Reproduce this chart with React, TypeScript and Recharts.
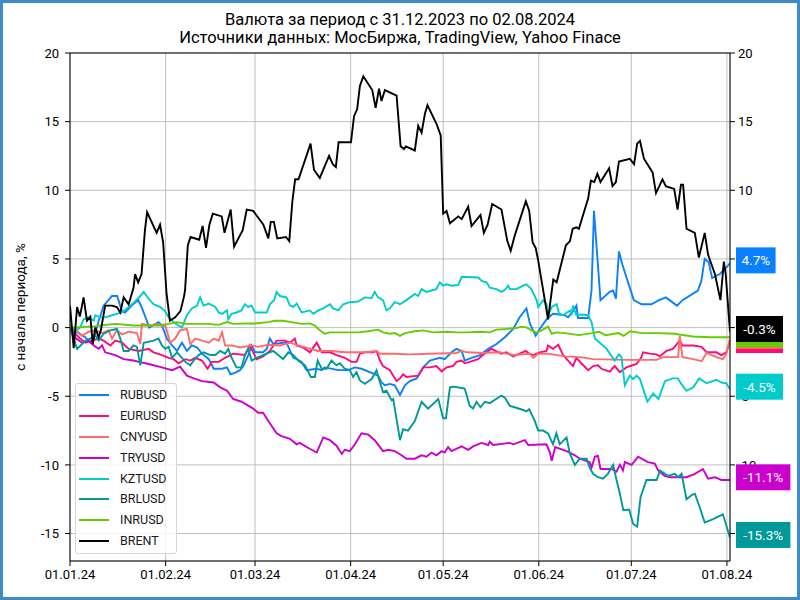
import React from 'react';
import { LineChart, Line, XAxis, YAxis, CartesianGrid, Legend, LabelList, ReferenceLine } from 'recharts';

type Pt = [number, number];

// x = days since 01.01.2024, y = change since start of period, %
const rubusd: Pt[] = [
  [0, 0], [2.8, -0.4], [5.0, -0.7], [6.6, -1.1], [7.7, -0.8], [9.3, 0.5], [10.9, 1.6], [13.6, 2.3], [15.3, 2.3],
  [16.8, 1.2], [17.8, 1.1], [20.0, 1.6], [22.1, 2.0], [23.2, 1.5], [24.9, 0.5], [25.7, 0], [28.7, 0.4], [29.8, 0.15],
  [31.4, -0.8], [33.1, -1.3], [34.7, -1.7], [36.3, -1.1], [37.9, -1.7], [39.5, -1.3], [41.2, -1.45], [42.8, -1.9],
  [45.0, -2.3], [46.6, -3.0], [49.3, -3.0], [50.9, -2.9], [52.0, -3.4], [53.5, -3.3], [55.1, -3.1], [56.2, -2.8],
  [57.8, -2.0], [58.9, -1.3], [60.0, -1.8], [62.6, -1.8], [63.8, -1.55], [64.8, -0.8], [65.9, -1.2], [69.1, -1.1],
  [70.2, -1.1], [72.4, -2.2], [73.5, -2.3], [75.1, -2.5], [76.7, -3.1], [80.0, -3.0], [81.6, -3.1], [82.6, -2.9],
  [87.0, -3.1], [90.2, -3.1], [92.4, -2.9], [94.5, -3.0], [97.8, -3.3], [99.9, -3.5], [101.0, -4.0], [102.1, -4.2],
  [103.7, -4.1], [105.3, -4.2], [107.0, -4.9], [108.6, -4.2], [110.2, -3.9], [112.4, -3.7], [114.0, -3.1],
  [114.5, -2.9], [116.7, -2.4], [119.9, -2.2], [121.5, -2.3], [123.7, -1.8], [125.3, -1.55], [127.0, -1.7],
  [128.0, -2.4], [130.2, -2.2], [132.9, -2.0], [135.6, -1.55], [138.3, -1.2], [141.0, -0.7], [143.7, -0.1],
  [145.8, 0.75], [148.0, 1.4], [149.1, 0.3], [151.0, -0.6], [152.3, -0.1], [154.5, 0.6], [156.6, 1.0], [160.4, 0.9],
  [161.5, 0.75], [163.1, 1.2], [164.2, 1.6], [164.7, 0.7], [168.0, 0.7], [169.1, 2.7], [169.9, 8.5], [172.0, 2.0],
  [175.0, 2.6], [176.1, 2.7], [177.0, 2.1], [178.0, 5.55], [179.1, 4.6], [182.8, 2.0], [185.3, 1.7], [188.5, 1.7],
  [191.0, 2.0], [193.2, 2.2], [196.8, 1.6], [198.6, 2.0], [203.6, 2.7], [204.7, 3.4], [205.8, 5.0], [207.1, 4.75],
  [208.2, 3.6], [210.7, 3.9], [211.7, 4.15], [213.3, 4.5], [214, 4.7],
];

const eurusd: Pt[] = [
  [0, 0], [1.7, -0.45], [3.3, -0.8], [5.0, -1.1], [7.1, -0.95], [9.3, -0.8], [10.9, -0.95], [13.1, -1.3],
  [14.7, -0.95], [16.9, -1.1], [19.0, -1.55], [22.3, -1.7], [25.5, -1.55], [27.1, -1.8], [29.8, -2.0], [32.0, -2.2],
  [33.6, -2.3], [35.2, -2.6], [37.4, -2.3], [39.0, -2.4], [40.6, -2.2], [42.8, -2.4], [44.6, -3.0], [46.0, -2.5],
  [48.2, -2.5], [50.3, -2.2], [52.9, -1.9], [56.7, -2.0], [58.3, -1.3], [59.4, -1.8], [60.5, -2.3], [62.6, -2.1],
  [64.8, -1.7], [67.0, -0.95], [69.7, -0.95], [71.3, -1.1], [72.9, -0.8], [73.5, -1.3], [75.6, -1.45], [77.8, -1.8],
  [80.0, -1.1], [81.6, -1.8], [84.3, -1.8], [86.4, -2.0], [89.1, -2.2], [91.3, -2.5], [92.9, -2.5], [94.0, -1.9],
  [95.6, -1.8], [98.3, -1.8], [99.4, -1.7], [100.5, -2.4], [101.5, -2.8], [103.7, -3.1], [105.9, -3.9], [107.0, -3.7],
  [108.0, -3.4], [109.1, -3.6], [112.9, -3.5], [114.5, -2.9], [116.7, -2.9], [118.8, -2.8], [120.5, -3.2],
  [122.1, -2.9], [124.2, -2.8], [125.3, -2.5], [127.0, -2.4], [128.0, -2.6], [129.6, -2.5], [132.3, -2.3],
  [133.9, -2.0], [135.6, -1.7], [136.7, -1.55], [139.9, -1.9], [141.5, -1.8], [143.7, -2.1], [145.8, -1.9],
  [147.8, -1.7], [148.9, -1.9], [150.2, -2.0], [152.3, -1.8], [154.5, -1.7], [155.0, -1.3], [156.6, -1.55],
  [158.3, -1.25], [159.9, -2.0], [161.5, -2.4], [163.1, -2.8], [164.2, -2.2], [165.8, -2.6], [168.0, -3.1],
  [169.6, -2.8], [171.2, -2.75], [172.3, -3.0], [175.0, -3.2], [176.6, -2.8], [178.3, -3.25], [180.4, -2.9],
  [183.7, -2.65], [185.3, -2.15], [185.8, -1.8], [188.0, -1.9], [190.1, -1.95], [191.2, -2.1], [193.4, -1.7],
  [195.5, -1.55], [197.7, -0.95], [198.6, -1.3], [202.1, -1.3], [204.8, -1.4], [206.4, -1.8], [209.6, -1.8],
  [211.2, -2.0], [212.8, -1.8], [214, -1.1],
];

const cnyusd: Pt[] = [
  [0, 0], [1.6, -0.1], [3.9, -0.6], [6.1, -0.3], [8.2, -0.2], [10.4, -0.4], [12.5, -0.2], [13.6, -0.8], [15.2, -0.2],
  [16.9, -0.5], [19.0, -0.3], [21.7, -0.4], [22.8, -1.2], [23.3, 0.27], [26.0, 0.15], [27.6, 0.27], [30.2, 0.1],
  [30.9, 0.15], [32.5, -1.1], [34.1, -0.8], [35.7, -0.2], [37.9, -0.1], [39.0, -1.2], [40.6, -0.8], [42.8, -0.95],
  [45.0, -1.1], [46.6, -0.8], [48.2, -0.95], [49.3, -0.35], [50.3, -1.3], [52.5, -1.3], [55.1, -1.45], [58.9, -1.3],
  [61.0, -1.4], [64.3, -1.25], [68.1, -1.3], [71.3, -1.1], [74.0, -1.3], [77.2, -1.5], [80.5, -1.7], [84.8, -1.7],
  [89.1, -1.8], [95.6, -1.8], [99.4, -1.7], [100.5, -1.9], [105.3, -1.9], [110.2, -1.95], [116.7, -1.9],
  [125.3, -1.85], [127.0, -1.7], [128.6, -1.8], [133.9, -1.85], [139.4, -1.8], [143.7, -2.0], [149.1, -1.9],
  [150.2, -2.2], [151.8, -1.9], [155.0, -1.9], [160.4, -2.1], [165.3, -2.15], [169.6, -2.3], [180.4, -2.35],
  [190.1, -2.35], [192.3, -2.15], [197.2, -2.15], [197.7, -0.6], [198.6, -2.15], [202.1, -2.3], [204.8, -2.45],
  [206.4, -1.85], [209.6, -2.15], [211.7, -2.3], [212.8, -1.9], [214, -0.8],
];

const tryusd: Pt[] = [
  [0, 0], [1.7, -0.75], [3.9, -1.1], [6.1, -0.95], [7.7, -1.3], [9.3, -1.55], [10.4, -1.3], [11.4, -1.8],
  [14.7, -2.0], [17.4, -2.3], [20.6, -2.4], [22.3, -2.5], [25.5, -2.65], [29.8, -2.9], [33.1, -3.1], [35.7, -2.85],
  [37.9, -3.5], [40.1, -3.7], [42.8, -3.9], [46.6, -4.0], [48.7, -4.35], [50.9, -4.6], [52.9, -5.2], [55.6, -5.4],
  [59.4, -5.9], [61.0, -6.2], [62.6, -6.2], [64.3, -6.8], [67.0, -7.7], [68.6, -7.9], [71.3, -8.1], [73.5, -8.5],
  [74.5, -8.4], [76.7, -8.7], [80.0, -9.1], [82.1, -8.0], [84.3, -8.2], [86.4, -8.6], [88.1, -9.2], [89.1, -8.9],
  [90.7, -9.0], [92.4, -8.5], [94.5, -7.7], [96.7, -7.8], [98.8, -8.2], [101.5, -9.0], [103.2, -8.9], [105.3, -9.0],
  [107.5, -9.3], [109.1, -9.55], [111.8, -9.55], [114.0, -9.3], [115.6, -9.4], [117.2, -9.1], [118.8, -9.3],
  [120.5, -9.0], [121.5, -9.1], [122.6, -8.7], [123.7, -9.0], [127.0, -8.65], [129.1, -8.9], [130.7, -8.65],
  [133.4, -8.4], [135.6, -8.55], [136.1, -8.3], [137.2, -8.55], [142.6, -8.4], [143.7, -8.5], [147.5, -8.2],
  [148.6, -8.55], [154.5, -8.5], [155.6, -9.1], [156.2, -9.7], [157.3, -8.7], [161.0, -9.0], [163.7, -9.3],
  [165.3, -9.55], [168.5, -9.8], [169.1, -10.2], [170.2, -9.4], [171.2, -9.35], [172.0, -10.3], [175.6, -10.3],
  [177.2, -10.5], [178.3, -10.0], [179.3, -10.4], [179.9, -9.8], [182.1, -10.0], [184.2, -9.4], [187.4, -9.8],
  [189.6, -9.9], [190.7, -10.4], [192.8, -10.8], [194.5, -10.9], [199.9, -10.9], [202.6, -10.65], [205.2, -10.3],
  [206.9, -11.0], [209.1, -10.9], [211.2, -11.1], [214, -11.1],
];

const kztusd: Pt[] = [
  [0, 0], [1.9, -0.2], [3.3, 0.0], [4.4, 0.6], [6.1, 0.75], [7.7, 0.5], [8.2, 0.9], [9.8, 0.75], [11.4, 0.75],
  [13.6, 0.9], [15.2, 1.0], [16.9, 1.1], [19.0, 1.5], [20.6, 1.8], [22.8, 2.3], [23.9, 2.6], [25.5, 2.1], [27.1, 1.7],
  [29.3, 1.5], [30.8, 1.2], [32.0, 0.75], [33.6, 0.4], [35.2, 0.15], [36.3, 0], [37.9, 0.9], [39.5, 1.4], [41.2, 1.6],
  [42.2, 2.2], [43.3, 1.6], [45.0, 1.75], [47.1, 1.5], [48.2, 1.1], [49.3, 1.0], [50.9, 1.25], [51.3, 0.6],
  [52.4, 1.0], [54.0, 1.1], [55.6, 1.25], [56.7, 1.7], [57.8, 1.5], [58.9, 1.6], [60.0, 1.1], [63.8, 1.1],
  [64.8, 1.7], [66.2, 2.0], [67.0, 2.6], [68.1, 2.3], [70.2, 2.2], [71.3, 1.6], [72.4, 1.5], [73.5, 1.75],
  [75.1, 1.1], [77.8, 1.25], [78.9, 1.0], [80.5, 1.25], [82.1, 1.4], [84.3, 1.7], [85.3, 1.4], [87.0, 1.25],
  [88.6, 1.7], [90.7, 1.85], [93.4, 1.9], [95.6, 2.2], [97.8, 2.15], [98.8, 2.6], [99.9, 2.2], [101.5, 2.0],
  [102.6, 1.25], [103.7, 1.4], [105.3, 1.85], [107.0, 1.7], [109.1, 2.0], [111.8, 2.45], [112.9, 2.3], [114.0, 2.8],
  [115.6, 2.6], [117.2, 2.7], [118.8, 2.8], [119.9, 3.3], [121.0, 3.05], [122.1, 3.15], [123.7, 3.05], [125.9, 3.1],
  [127.0, 3.7], [132.4, 3.65], [133.5, 3.4], [135.1, 3.3], [136.1, 2.9], [138.3, 2.8], [139.9, 2.6], [141.0, 2.75],
  [142.1, 3.05], [142.6, 2.8], [144.8, 2.8], [146.9, 3.05], [148.0, 3.15], [149.6, 2.8], [151.3, 2.0], [151.8, 1.5],
  [153.4, 2.0], [154.5, 1.75], [155.0, 0.9], [156.2, 1.5], [157.8, 1.7], [158.6, 1.0], [159.9, 0.9], [162.1, 1.25],
  [162.6, 0.9], [163.1, 1.6], [164.2, 0.9], [165.8, 0.95], [168.0, 0.9], [169.1, 0.4], [170.2, -0.8],
  [171.8, -1.1], [174.0, -1.55], [176.6, -2.4], [178.0, -1.95], [178.8, -2.15], [179.9, -4.2], [181.5, -3.5],
  [182.6, -3.75], [183.7, -3.5], [184.8, -3.75], [187.2, -5.4], [189.1, -4.8], [190.8, -5.2], [192.9, -3.9],
  [195.5, -3.7], [197.1, -3.7], [198.2, -4.1], [199.9, -4.6], [202.1, -4.35], [204.0, -3.7], [206.4, -4.05],
  [209.6, -3.8], [211.2, -4.0], [212.8, -4.05], [214, -4.5],
];

const brlusd: Pt[] = [
  [0, 0], [2.3, -1.55], [5.0, -0.95], [6.6, -0.8], [8.2, -0.55], [9.3, -0.95], [10.9, -0.45], [13.1, -0.2],
  [15.2, -0.1], [16.3, -0.8], [17.4, -1.7], [19.0, -1.7], [20.6, -1.3], [21.7, -1.4], [22.8, -2.75], [23.9, -1.1],
  [27.1, -0.95], [28.7, -0.8], [29.8, -1.3], [30.9, -1.55], [32.0, -1.4], [33.1, -2.2], [34.7, -1.8], [36.3, -2.2],
  [37.4, -2.5], [39.0, -2.75], [40.1, -2.4], [41.7, -2.0], [43.3, -1.8], [45.5, -2.0], [47.1, -2.0], [48.7, -1.7],
  [50.3, -1.9], [51.3, -1.55], [52.4, -2.2], [54.0, -2.9], [55.6, -2.9], [56.7, -2.0], [57.8, -1.55], [58.9, -2.4],
  [60.5, -2.2], [63.8, -1.9], [65.9, -1.7], [67.5, -2.0], [69.1, -2.3], [70.8, -1.8], [72.4, -2.0], [74.0, -2.4],
  [76.2, -2.75], [78.1, -3.6], [79.4, -3.6], [80.3, -2.4], [81.6, -3.0], [83.2, -3.0], [84.8, -2.4], [86.4, -2.75],
  [87.5, -2.6], [89.1, -3.0], [90.7, -3.1], [91.8, -3.6], [92.9, -3.25], [94.0, -3.85], [95.6, -4.1], [97.8, -3.75],
  [99.4, -3.1], [100.5, -4.0], [101.5, -4.7], [102.6, -4.6], [104.3, -5.3], [104.8, -5.2], [107.0, -8.2],
  [108.0, -7.4], [109.6, -7.5], [111.8, -6.8], [114.0, -5.4], [116.1, -5.9], [119.4, -5.2], [121.0, -6.6],
  [121.9, -6.6], [123.2, -4.35], [124.3, -4.3], [127.0, -4.4], [128.0, -4.45], [129.6, -5.7], [130.7, -5.9],
  [131.8, -5.4], [133.1, -5.8], [134.5, -5.4], [136.1, -5.5], [139.9, -4.95], [141.0, -5.1], [142.6, -5.7],
  [144.2, -5.8], [146.9, -6.0], [148.0, -6.1], [148.9, -5.95], [150.7, -6.8], [151.8, -7.5], [153.4, -7.5],
  [155.0, -7.7], [156.6, -8.5], [157.7, -7.7], [158.8, -8.5], [159.9, -8.25], [161.0, -8.0], [162.1, -9.2],
  [163.7, -10.0], [165.3, -9.55], [167.5, -9.55], [168.5, -10.2], [169.6, -10.65], [171.2, -10.9], [172.8, -11.0],
  [174.4, -10.65], [176.1, -10.0], [177.2, -11.1], [178.3, -12.1], [179.4, -13.3], [181.3, -13.25], [182.6, -14.3],
  [183.9, -14.5], [185.0, -12.35], [186.9, -11.1], [190.2, -11.1], [191.3, -10.4], [193.9, -10.8], [196.1, -10.65],
  [197.2, -10.9], [198.3, -10.65], [199.9, -12.5], [201.6, -12.2], [202.6, -12.1], [204.2, -13.1], [205.8, -14.2],
  [208.5, -13.95], [211.7, -13.6], [214, -15.3],
];

const inrusd: Pt[] = [
  [0, 0], [8.2, 0.1], [9.8, 0.15], [14.7, 0.27], [20.6, 0.15], [23.9, 0.15], [28.7, 0.15], [32.0, 0.27], [34.7, 0.4],
  [37.4, 0.27], [45.0, 0.27], [48.2, 0.2], [50.9, 0.4], [52.9, 0.27], [56.7, 0.3], [60.0, 0.3], [64.3, 0.4],
  [66.4, 0.5], [69.1, 0.5], [71.8, 0.4], [75.1, 0.27], [77.8, 0.3], [79.4, 0.15], [81.0, -0.2], [82.6, -0.45],
  [84.3, -0.35], [87.0, -0.35], [90.2, -0.35], [93.4, -0.35], [96.7, -0.27], [99.9, -0.15], [101.5, -0.35],
  [103.7, -0.45], [105.3, -0.4], [107.0, -0.6], [108.6, -0.4], [111.8, -0.27], [114.5, -0.2], [117.7, -0.35],
  [122.1, -0.3], [125.3, -0.35], [128.6, -0.35], [132.9, -0.3], [136.1, -0.35], [138.3, -0.15], [141.5, -0.1],
  [144.8, -0.03], [146.4, 0.07], [148.0, 0.02], [149.6, -0.2], [151.3, -0.35], [152.9, -0.2], [155.0, 0.07],
  [156.2, -0.45], [157.8, -0.35], [160.4, -0.4], [165.0, -0.55], [169.3, -0.4], [171.5, -0.3], [173.6, -0.55],
  [177.9, -0.4], [179.5, -0.6], [181.7, -0.27], [185.4, -0.4], [190.8, -0.4], [196.2, -0.45], [197.5, -0.5],
  [202.0, -0.65], [207.4, -0.7], [214, -0.7],
];

const brent: Pt[] = [
  [0, 1.6], [1.2, -1.5], [2.3, 1.5], [3.2, 0.8], [4.4, 2.2], [5.5, 0.5], [6.6, 0.8], [7.4, -1.2], [8.2, 0.0],
  [9.3, -0.7], [10, -0.2], [11.4, 1.6], [13.6, 1.6], [15.2, 1.5], [16.3, 1.1], [17.4, 2.2], [19, 1.7], [20.6, 2.9],
  [21.1, 3.9], [22.1, 3.3], [23.2, 3.9], [24.3, 7.1], [25, 8.4], [28.1, 6.9], [29.2, 7.5], [30.2, 6.2], [31.3, 2.5],
  [32.4, 0.5], [34.1, 0.75], [35.8, 1.2], [36.9, 2.2], [37.3, 2.7], [38.2, 6.0], [39.1, 6.6], [41.9, 6.4], [43, 7.4],
  [44.1, 5.8], [45.2, 7.5], [46.3, 8.3], [49.2, 8.1], [50.1, 6.9], [52.1, 8.6], [53.2, 5.9], [56, 7.1], [57.3, 8.6],
  [59.4, 8.5], [62.7, 7.5], [64.3, 6.5], [65.1, 7.7], [66.1, 7.7], [67.2, 6.5], [70, 6.6], [71.1, 6.3], [72.1, 9.2],
  [73, 10.8], [74.1, 10.8], [78, 13.4], [79.1, 11.5], [81, 10.9], [84, 12.5], [85.2, 11.9], [86.2, 11.7],
  [87.1, 13.5], [91.1, 13.5], [92.1, 15.4], [93.1, 15.9], [94, 17.6], [95.1, 18.3], [98, 17.3], [99.1, 16.0],
  [100.2, 17.4], [101, 16.5], [102.1, 17.3], [105.9, 16.9], [107.2, 13.2], [108.3, 13.0], [108.9, 13.2],
  [111.8, 12.9], [112.9, 14.7], [114, 14.2], [115.1, 15.6], [115.9, 16.2], [118.9, 14.8], [120.2, 14.0], [121, 8.3],
  [122.1, 8.5], [123.2, 7.6], [125.9, 8.1], [127, 7.9], [129.1, 8.8], [130.2, 7.4], [133.1, 8.2], [134.2, 6.9],
  [135.4, 7.5], [136.9, 9.0], [139.9, 8.6], [141.8, 6.3], [142.9, 5.6], [144.2, 6.7], [147.8, 9.2], [148.9, 8.5],
  [150, 6.2], [151, 5.8], [151.8, 4.9], [155, 0.6], [156.7, 3.5], [157.8, 3.3], [160.8, 6.0], [162.1, 6.3],
  [163, 7.2], [164.2, 7.3], [165, 7.2], [166.9, 8.6], [168, 9.4], [168.9, 10.7], [170, 10.6], [171, 11.2],
  [172, 10.6], [174.8, 11.6], [175.9, 10.3], [177, 10.6], [178, 12.1], [181.5, 12.3], [182.9, 11.9], [183.9, 13.4],
  [184.8, 13.6], [186.1, 12.3], [188.9, 11.3], [190, 9.8], [192.1, 10.8], [193.2, 10.3], [195.9, 10.1], [197, 8.6],
  [198.1, 10.4], [198.8, 10.4], [199.9, 7.2], [202.6, 6.9], [203.9, 5.1], [205.8, 6.9], [206.9, 5.3], [209.1, 3.9],
  [210.9, 2.0], [212, 4.8], [212.6, 3.9], [214, -0.3],
];

const SERIES_NAMES = ['RUBUSD', 'EURUSD', 'CNYUSD', 'TRYUSD', 'KZTUSD', 'BRLUSD', 'INRUSD', 'BRENT'];
const SERIES_COLORS = ['#0a80ff', '#ff0a78', '#ff6a6a', '#cc00cc', '#00cccc', '#009999', '#66cc00', '#000000'];
const SERIES_DATA = [rubusd, eurusd, cnyusd, tryusd, kztusd, brlusd, inrusd, brent];

const X_TICKS = [0, 31, 60, 91, 121, 152, 182, 213];
const X_TICK_LABELS = ['01.01.24', '01.02.24', '01.03.24', '01.04.24', '01.05.24', '01.06.24', '01.07.24', '01.08.24'];
const Y_TICKS = [-15, -10, -5, 0, 5, 10, 15, 20];

const TITLE_1 = 'Валюта за период с 31.12.2023 по 02.08.2024';
const TITLE_2 = 'Источники данных: МосБиржа, TradingView, Yahoo Finace';
const Y_LABEL = 'с начала периода, %';

const FONT = 'Roboto, "DejaVu Sans", sans-serif';

const series = SERIES_NAMES.map((name, i) => ({
  name,
  color: SERIES_COLORS[i],
  data: SERIES_DATA[i].map(([d, v]) => ({ d, v })),
}));

const makeEndLabel = (color: string, lastIndex: number) => (props: any) => {
  if (props.index !== lastIndex) return null;
  const px = props.x ?? props.viewBox?.x;
  const py = props.y ?? props.viewBox?.y;
  if (px == null || py == null) return null;
  const text = `${Number(props.value).toFixed(1)}%`;
  const w = 10 + text.length * 7.4;
  const x = px + 6;
  const cy = py - 2.7;
  return (
    <g>
      <rect x={x} y={cy - 13} width={w} height={26} fill={color} />
      <text x={x + w / 2} y={cy} textAnchor="middle" dominantBaseline="central" fill="#ffffff" fontSize={13.5} fontFamily={FONT}>
        {text}
      </text>
    </g>
  );
};

const renderLegend = () => (
  <div
    style={{
      width: 102,
      height: 171,
      boxSizing: 'border-box',
      border: '1px solid #d6d6d6',
      borderRadius: 3,
      background: 'rgba(255,255,255,0.8)',
      paddingTop: 1,
      fontFamily: FONT,
      fontSize: 12.5,
    }}
  >
    {series.map((s) => (
      <div key={s.name} style={{ height: 20.8, display: 'flex', alignItems: 'center' }}>
        <div style={{ marginLeft: 3, width: 30, height: 0, borderTop: `2px solid ${s.color}` }} />
        <span style={{ marginLeft: 11, color: '#1a1a1a', lineHeight: '14px' }}>{s.name}</span>
      </div>
    ))}
  </div>
);

const tickStyle = { fontSize: 13, fontFamily: FONT, fill: '#000' };

export default function App() {
  return (
    <div style={{ position: 'absolute', left: 0, top: 0, width: 800, height: 600, background: '#fff', overflow: 'hidden' }}>
      <div
        style={{
          position: 'absolute',
          left: 0,
          top: 11,
          width: 800,
          textAlign: 'center',
          fontFamily: FONT,
          fontSize: 16.5,
          lineHeight: '18px',
          color: '#000',
        }}
      >
        <div>{TITLE_1}</div>
        <div>{TITLE_2}</div>
      </div>
      <div
        style={{
          position: 'absolute',
          left: 20,
          top: 307,
          transform: 'translate(-50%, -50%) rotate(-90deg)',
          whiteSpace: 'nowrap',
          fontFamily: FONT,
          fontSize: 13.5,
          color: '#000',
        }}
      >
        {Y_LABEL}
      </div>
      <LineChart width={800} height={600} margin={{ top: 53, right: 30, bottom: 9, left: 30 }}>
        <CartesianGrid stroke="#b0b0b0" strokeWidth={0.8} />
        <XAxis
          dataKey="d"
          type="number"
          domain={[0, 214]}
          ticks={X_TICKS}
          tickFormatter={(v: number) => X_TICK_LABELS[X_TICKS.indexOf(v)] ?? ''}
          height={30}
          tick={tickStyle}
          tickSize={5}
          tickMargin={4}
          stroke="#000"
          allowDataOverflow
        />
        <YAxis
          type="number"
          domain={[-17, 20]}
          ticks={Y_TICKS}
          width={40}
          tick={tickStyle}
          tickSize={5}
          tickMargin={6}
          stroke="#000"
          allowDataOverflow
        />
        <YAxis
          yAxisId="right"
          orientation="right"
          type="number"
          domain={[-17, 20]}
          ticks={Y_TICKS}
          width={40}
          tick={tickStyle}
          tickSize={5}
          tickMargin={3}
          stroke="#000"
          allowDataOverflow
        />
        <ReferenceLine y={20} stroke="#000" strokeWidth={1} ifOverflow="visible" />
        {series.map((s) => (
          <Line
            key={s.name}
            data={s.data}
            dataKey="v"
            name={s.name}
            type="linear"
            stroke={s.color}
            strokeWidth={1.9}
            dot={false}
            activeDot={false}
            isAnimationActive={false}
          >
            <LabelList dataKey="v" content={makeEndLabel(s.color, s.data.length - 1)} />
          </Line>
        ))}
        <Legend
          layout="vertical"
          align="center"
          verticalAlign="middle"
          content={renderLegend}
          wrapperStyle={{ left: 75, top: 383, width: 102, height: 171 }}
        />
      </LineChart>
      <div
        style={{
          position: 'absolute',
          left: 0,
          top: 0,
          width: 800,
          height: 600,
          boxSizing: 'border-box',
          border: '3px solid #3f8bc6',
          pointerEvents: 'none',
        }}
      />
    </div>
  );
}
